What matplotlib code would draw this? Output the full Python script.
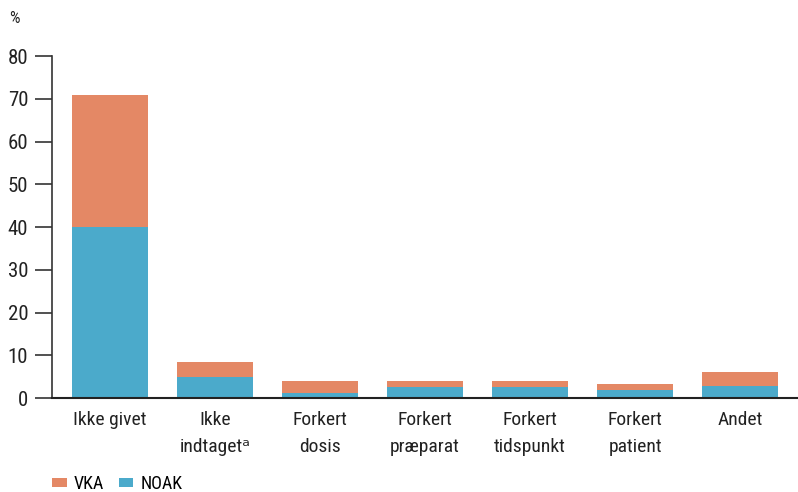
import matplotlib
matplotlib.use("Agg")
import matplotlib.pyplot as plt

categories = ["Ikke givet", "Ikke\nindtagetᵃ", "Forkert\ndosis", "Forkert\npræparat",
              "Forkert\ntidspunkt", "Forkert\npatient", "Andet"]
noak = [40.0, 4.9, 1.1, 2.5, 2.5, 1.9, 2.8]
vka = [30.9, 3.5, 2.8, 1.4, 1.4, 1.3, 3.4]

plt.rcParams["font.family"] = ["Roboto Condensed", "DejaVu Sans"]

fig = plt.figure(figsize=(7.98, 4.92), dpi=100)
ax = fig.add_axes([0.065, 0.191, 0.935, 0.695])

x = range(len(categories))
ax.bar(x, noak, width=0.72, color="#4BAACB", label="NOAK")
ax.bar(x, vka, width=0.72, bottom=noak, color="#E48865", label="VKA")

ax.set_ylim(0, 80)
ax.set_xlim(-0.55, 6.55)
ax.set_yticks(range(0, 81, 10))
ax.set_xticks(list(x))
ax.set_xticklabels(categories, fontsize=14, color="#222222", linespacing=1.7)
ax.tick_params(axis="y", labelsize=15, length=12, width=1.2, color="#333333", labelcolor="#222222", pad=5)
ax.tick_params(axis="x", length=0, pad=9)
for s in ["top", "right"]:
    ax.spines[s].set_visible(False)
ax.spines["left"].set_color("#333333")
ax.spines["left"].set_linewidth(1.2)
ax.spines["bottom"].set_color("#222222")
ax.spines["bottom"].set_linewidth(1.5)

fig.text(0.012, 0.962, "%", fontsize=12, color="#222222", va="center")

h, l = ax.get_legend_handles_labels()
fig.legend(h[::-1], l[::-1], loc="lower left", bbox_to_anchor=(0.045, -0.035), ncol=2, frameon=False,
           fontsize=13, handlelength=0.8, handleheight=0.45, handletextpad=0.4, columnspacing=0.8)

fig.savefig("out.png", dpi=100)
